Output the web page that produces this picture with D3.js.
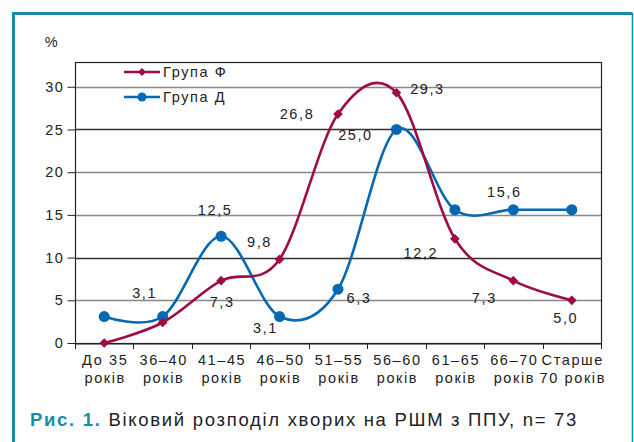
<!DOCTYPE html>
<html>
<head>
<meta charset="utf-8">
<script src="https://cdn.jsdelivr.net/npm/d3@7"></script>
<style>
  body { margin: 0; background: #fff; }
  svg { display: block; font-family: "Liberation Sans", Arial, sans-serif; }
  svg text { letter-spacing: 1.6px; }
</style>
</head>
<body>
<div id="chart"></div>
<script>
const categories = [["До 35", "років"], ["36–40", "років"], ["41–45", "років"], ["46–50", "років"],
  ["51–55", "років"], ["56–60", "років"], ["61–65", "років"], ["66–70", "років"], ["Старше", "70 років"]];
const groupF = [0, 2.4, 7.3, 9.8, 26.8, 29.3, 12.2, 7.3, 5.0];
const groupD = [3.1, 3.1, 12.5, 3.1, 6.3, 25.0, 15.6, 15.6, 15.6];
const yTicks = [0, 5, 10, 15, 20, 25, 30];

// label placement (offset from point), null = no label
const labelsF = [null, null, [1, 21], [-20, -17], [-41, 0], [31, -4], [-34, 14], [-29, 17], [-6, 18]];
const labelsD = [null, [-18, -24], [-6, -26], [-14, 11], [21, 9], [-41, 5], null, [-9, -18], null];

const width = 634, height = 442;
const margin = {left: 75, right: 33, top: 62, bottom: 99};
const colF = "#9e0b45", colD = "#0568b3", teal = "#1a8ca8";

const svg = d3.select("#chart").append("svg")
  .attr("width", width).attr("height", height);

// frame
svg.append("path")
  .attr("d", `M13.5,${height + 5} V13.5 H632.5`)
  .attr("fill", "none").attr("stroke", teal).attr("stroke-width", 3);
svg.append("path")
  .attr("d", `M632.5,13 V${height + 5}`)
  .attr("stroke", teal).attr("stroke-width", 1.6);

const x = d3.scaleBand().domain(d3.range(categories.length))
  .range([margin.left, width - margin.right]);
const y = d3.scaleLinear().domain([0, 32.9])
  .range([height - margin.bottom, margin.top]);

// grid
svg.append("g").selectAll("line").data(yTicks.filter(d => d > 0)).join("line")
  .attr("x1", margin.left).attr("x2", width - margin.right)
  .attr("y1", d => Math.round(y(d)) + 0.5).attr("y2", d => Math.round(y(d)) + 0.5)
  .attr("stroke", d => d === 10 || d === 25 ? "#333" : "#888").attr("stroke-width", 1.3);

// plot border
svg.append("rect")
  .attr("x", margin.left + 0.5).attr("y", margin.top + 0.5)
  .attr("width", width - margin.left - margin.right).attr("height", height - margin.top - margin.bottom)
  .attr("fill", "none").attr("stroke", "#222").attr("stroke-width", 1.2);

// y axis
const yAxis = svg.append("g")
  .attr("transform", `translate(${margin.left + 0.5},0)`)
  .call(d3.axisLeft(y).tickValues(yTicks).tickSize(8).tickPadding(3));
yAxis.select(".domain").remove();
yAxis.selectAll("line").attr("stroke", "#222");
yAxis.selectAll("text").attr("font-size", 14.5).attr("fill", "#222")
  .attr("font-family", "Liberation Sans, Arial, sans-serif");

svg.append("text").attr("x", 52).attr("y", 47).attr("text-anchor", "middle")
  .attr("font-size", 14.5).attr("fill", "#222").text("%");

// x axis
const xAxis = svg.append("g")
  .attr("transform", `translate(0,${height - margin.bottom + 0.5})`)
  .call(d3.axisBottom(x).tickSize(0).tickFormat(""));
xAxis.select(".domain").attr("stroke", "#222").attr("stroke-width", 1.2);
const bounds = d3.range(categories.length + 1).map(i => margin.left + i * x.bandwidth());
svg.append("g").selectAll("line").data(bounds).join("line")
  .attr("x1", d => Math.round(d) + 0.5).attr("x2", d => Math.round(d) + 0.5)
  .attr("y1", height - margin.bottom).attr("y2", height - margin.bottom + 6)
  .attr("stroke", "#222");

const xl = svg.append("g").selectAll("text").data(categories).join("text")
  .attr("x", (d, i) => x(i) + x.bandwidth() / 2)
  .attr("text-anchor", "middle").attr("font-size", 14.5).attr("fill", "#222");
xl.append("tspan").attr("x", (d, i) => x(i) + x.bandwidth() / 2 + 1).attr("y", 365).text(d => d[0]);
xl.append("tspan").attr("x", (d, i) => x(i) + x.bandwidth() / 2 + 1).attr("y", 383).text(d => d[1]);

const cx = i => x(i) + x.bandwidth() / 2;
const line = d3.line().x((d, i) => cx(i)).y(d => y(d)).curve(d3.curveCardinal.tension(0));

const fmt = v => v.toFixed(1).replace(".", ",");

function series(values, color, marker, labels) {
  svg.append("path").datum(values)
    .attr("d", line).attr("fill", "none").attr("stroke", color).attr("stroke-width", 2.6);
  if (marker === "diamond") {
    svg.append("g").selectAll("path").data(values).join("path")
      .attr("d", d3.symbol(d3.symbolDiamond2, 60))
      .attr("transform", (d, i) => `translate(${cx(i)},${y(d)})`)
      .attr("fill", color);
  } else {
    svg.append("g").selectAll("circle").data(values).join("circle")
      .attr("cx", (d, i) => cx(i)).attr("cy", d => y(d)).attr("r", 5.5).attr("fill", color);
  }
  svg.append("g").selectAll("text").data(values.map((v, i) => [v, i]).filter(d => labels[d[1]]))
    .join("text")
    .attr("x", d => cx(d[1]) + labels[d[1]][0])
    .attr("y", d => y(d[0]) + labels[d[1]][1])
    .attr("dy", "0.35em").attr("text-anchor", "middle")
    .attr("font-size", 14.5).attr("fill", "#222")
    .text(d => fmt(d[0]));
}

series(groupD, colD, "circle", labelsD);
series(groupF, colF, "diamond", labelsF);

// legend
const legend = [["Група Ф", colF, "diamond", 72], ["Група Д", colD, "circle", 97]];
legend.forEach(([name, color, marker, ly]) => {
  svg.append("line").attr("x1", 124).attr("x2", 160).attr("y1", ly).attr("y2", ly)
    .attr("stroke", color).attr("stroke-width", 2.6);
  if (marker === "diamond") {
    svg.append("path").attr("d", d3.symbol(d3.symbolDiamond2, 40))
      .attr("transform", `translate(142,${ly})`).attr("fill", color);
  } else {
    svg.append("circle").attr("cx", 142).attr("cy", ly).attr("r", 4.5).attr("fill", color);
  }
  svg.append("text").attr("x", 163).attr("y", ly).attr("dy", "0.35em")
    .attr("font-size", 14.5).attr("fill", "#222").text(name);
});

// caption
const cap = svg.append("text").attr("x", 30).attr("y", 426).attr("font-size", 18.5).attr("fill", "#222")
  .style("letter-spacing", "1.7px");
cap.append("tspan").attr("fill", teal).attr("font-weight", "bold").text("Рис. 1.");
cap.append("tspan").text(" Віковий розподіл хворих на РШМ з ППУ, n= 73");
</script>
</body>
</html>
